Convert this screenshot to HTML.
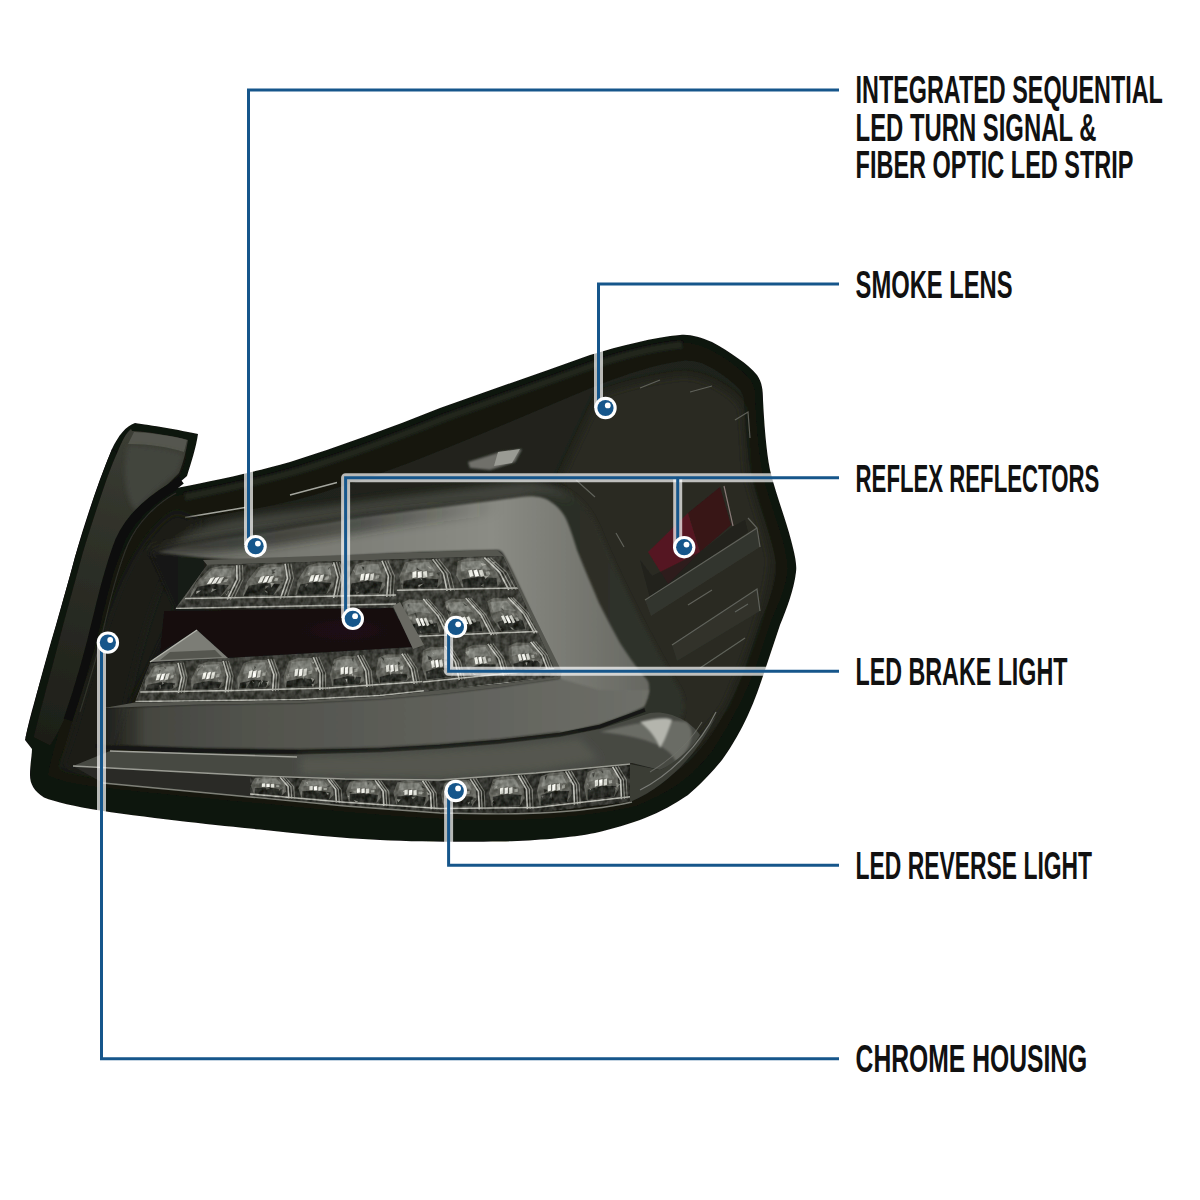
<!DOCTYPE html>
<html lang="en">
<head>
<meta charset="utf-8">
<title>Tail Light Features</title>
<style>
html,body{margin:0;padding:0;background:#fff;}
body{width:1200px;height:1200px;overflow:hidden;position:relative;font-family:"Liberation Sans",sans-serif;}
svg{position:absolute;left:0;top:0;display:block;}
.lbl{font-family:"Liberation Sans",sans-serif;font-weight:bold;font-size:39.3px;fill:#111;}
</style>
</head>
<body>
<svg width="1200" height="1200" viewBox="0 0 1200 1200">
<defs>
  <linearGradient id="gLens" x1="0" y1="0" x2="1" y2="0">
    <stop offset="0" stop-color="#1b1d17"/>
    <stop offset="0.5" stop-color="#21231c"/>
    <stop offset="1" stop-color="#1f211a"/>
  </linearGradient>
  <linearGradient id="gBar" gradientUnits="userSpaceOnUse" x1="100" y1="0" x2="660" y2="0">
    <stop offset="0" stop-color="#4a4b45"/>
    <stop offset="0.25" stop-color="#73746d"/>
    <stop offset="0.7" stop-color="#8b8c85"/>
    <stop offset="0.82" stop-color="#7b7c75"/>
    <stop offset="1" stop-color="#64655f"/>
  </linearGradient>
  <linearGradient id="gArmShade" gradientUnits="userSpaceOnUse" x1="160" y1="0" x2="500" y2="0">
    <stop offset="0" stop-color="#2a2c27" stop-opacity="0.85"/>
    <stop offset="0.6" stop-color="#2a2c27" stop-opacity="0.55"/>
    <stop offset="1" stop-color="#2a2c27" stop-opacity="0"/>
  </linearGradient>
  <linearGradient id="gHousing" gradientUnits="userSpaceOnUse" x1="110" y1="0" x2="620" y2="0">
    <stop offset="0" stop-color="#14160f"/>
    <stop offset="0.15" stop-color="#181a14"/>
    <stop offset="0.4" stop-color="#23251f"/>
    <stop offset="1" stop-color="#2e3029"/>
  </linearGradient>
  <radialGradient id="gRed"><stop offset="0" stop-color="#2a1014" stop-opacity="0.55"/><stop offset="1" stop-color="#2a1216" stop-opacity="0"/></radialGradient>
  <linearGradient id="gFin" gradientUnits="userSpaceOnUse" x1="150" y1="430" x2="60" y2="740">
    <stop offset="0" stop-color="#3c3e35"/>
    <stop offset="0.35" stop-color="#2f3129"/>
    <stop offset="1" stop-color="#1d1f18"/>
  </linearGradient>
  <linearGradient id="gBarLow" gradientUnits="userSpaceOnUse" x1="90" y1="0" x2="660" y2="0">
    <stop offset="0" stop-color="#2d2f2a" stop-opacity="0"/>
    <stop offset="0.1" stop-color="#454640"/>
    <stop offset="0.25" stop-color="#50514b"/>
    <stop offset="0.8" stop-color="#676862"/>
    <stop offset="1" stop-color="#6f7069"/>
  </linearGradient>
  <filter id="b1" x="-10%" y="-10%" width="120%" height="120%"><feGaussianBlur stdDeviation="1"/></filter>
  <filter id="b2" x="-10%" y="-10%" width="120%" height="120%"><feGaussianBlur stdDeviation="2"/></filter>
  <filter id="b4" x="-20%" y="-20%" width="140%" height="140%"><feGaussianBlur stdDeviation="4"/></filter>
  <filter id="b8" x="-20%" y="-20%" width="140%" height="140%"><feGaussianBlur stdDeviation="8"/></filter>
  <filter id="grain" x="0" y="0" width="100%" height="100%" color-interpolation-filters="sRGB">
    <feTurbulence type="fractalNoise" baseFrequency="0.22 0.18" numOctaves="2" seed="4" result="n"/>
    <feColorMatrix in="n" type="matrix" values="2 0 0 0 -0.5  2 0 0 0 -0.5  2 0 0 0 -0.5  0 0 0 0 1" result="g"/>
    <feComposite in="SourceGraphic" in2="g" operator="arithmetic" k1="0" k2="1" k3="0.16" k4="-0.08" result="m"/>
    <feGaussianBlur in="m" stdDeviation="0.45" result="mb"/>
    <feComposite in="mb" in2="SourceGraphic" operator="in"/>
  </filter>
  <filter id="soft" x="-2%" y="-2%" width="104%" height="104%"><feGaussianBlur stdDeviation="0.45"/></filter>
  <clipPath id="clipBody"><path id="bodyPath" d="M172,489 C200,483 240,476 290,462 C340,446 390,428 440,408 C490,390 540,373 590,355 C620,346 655,337 680,335 C690,334 700,337 712,342 C730,352 748,364 757,375 C762,382 763,390 763,400 C764,420 766,450 770,470 C776,495 786,520 791,540 C795,555 797,565 796,572 C794,590 786,610 780,625 C775,640 770,655 765,670 C760,685 755,700 748,715 C742,728 733,745 722,760 C712,772 700,785 688,795 C675,804 660,812 645,818 C630,824 612,829 595,833 C570,838 530,841 500,841.5 C470,842 420,842 380,840 C340,838 300,834 260,829.5 C220,825.5 160,819.5 100,810.5 C75,806.5 55,802 44,797.5 C34,791 30,784 30,775 C30,765 32,755 32,749 L25,740 C28,725 33,710 37,693 C43,670 50,645 56,625 C62,604 69,580 75,557 C81,537 88,516 94,497 C100,480 106,463 112,449 Z"/></clipPath>
  <clipPath id="clipLed"><path d="M207,565 L503,556 L558,676.5 L500,684 L440,690 L380,696.5 L300,700.5 L135,702.5 L150,663 L226,658 L413,647 L393,608 L175,609 Z"/></clipPath>
</defs>

<g id="lamp" filter="url(#soft)">
  <path d="M135,423 C150,425 180,430 198,434 C196,448 191,463 187,476 L172,489 L120,520 L60,640 L25,740 C30,715 38,690 44,668 C55,630 66,590 75,557 C85,522 98,482 112,449 C118,436 126,426 135,423 Z" fill="#11120d"/>
  <use href="#bodyPath" fill="#11120d"/>
  <g clip-path="url(#clipBody)">
    <path d="M172,497 C215,489 255,481 294,470 C345,455 395,436 445,416 C495,398 545,380 594,363 C625,353 655,345 682,343 C692,343 702,346 710,350 C724,357 742,370 750,380 C755,387 755,394 755,402 C756,425 758,450 762,472 C767,495 777,520 783,543 C786,555 788,565 787,572 C785,590 777,606 771,620 C766,635 761,650 756,665 C751,680 744,695 737,708 C730,722 721,737 711,752 C702,763 691,775 678,784 C666,792 650,800 635,806 C595,815 540,820 500,820 C440,820 380,815 300,807 C230,800 160,794 100,787 C75,784 58,780 48,775 C56,740 68,700 80,665 C90,635 100,605 112,575 C127,540 150,505 172,497 Z" fill="#15170f"/>
    <path d="M185,497 C215,491 255,483 294,472 C345,457 395,438 445,418 C495,400 545,382 594,365 C625,355 655,347 682,345" fill="none" stroke="#24261f" stroke-width="7" filter="url(#b1)"/>
    <path d="M185,517.5 L245,507.5 M290,495 L337,482.5" stroke="#a5a69e" stroke-width="1.3" fill="none"/>
    <path id="lens" d="M176,522 C215,516 255,510 296,500 C345,487 395,469 447,448 C497,428 547,406 596,386 C627,374 657,364 682,361 C692,360 700,362 706,365 C720,372 733,382 740,390 C744,396 744,400 744,406 C745,428 747,452 751,474 C756,497 766,522 772,545 C775,557 777,566 776,572 C774,590 767,606 761,620 C756,635 751,650 746,665 C741,680 734,695 727,708 C720,722 711,737 701,748 C692,759 681,769 668,777 C656,785 642,792 628,797 C590,806 540,810 500,810 C440,810 380,806 300,798 C230,791 160,785 100,778 C82,775 68,771 60,766 C66,740 77,700 90,670 C100,640 110,610 122,582 C137,552 156,530 176,522 Z" fill="url(#gLens)"/>
    <path d="M600,395 C630,385 660,378 685,376 C710,378 735,395 742,408 L746,470 C752,500 765,530 770,560 C768,600 745,660 725,705 C700,740 690,750 675,760 L640,690 L585,560 L560,480 Z" fill="#292b24" filter="url(#b4)"/>
    <path d="M176,512 C152,525 132,560 120,588 C107,622 94,662 82,702 C74,732 66,757 60,768 L112,778 C122,722 137,642 162,582 C172,562 187,542 202,522 Z" fill="#1a1c17" filter="url(#b4)"/>
    <path d="M150,552 C200,535 300,522 380,510 C440,500 500,490 540,486 C565,482 585,500 597,525 C615,570 650,640 680,690 C690,710 680,735 650,745 C600,760 500,772 400,775 C300,776 200,772 110,762 C120,740 125,720 130,702 L150,662 L175,608 Z" fill="url(#gHousing)" filter="url(#b2)"/>
    <path d="M178,540 C200,524 240,517 300,510 C360,502 440,492 520,482 C545,482 562,490 572,502 L560,497 C545,492 530,493 521,497 C470,505 420,510 380,515 C330,522 280,530 250,535 C215,540 185,545 160,551 Z" fill="#42443e" filter="url(#b4)"/>
    <path d="M468,462 L500,452 L522,449 L515,462 L490,470 L470,468 Z" fill="#6f706a" filter="url(#b1)"/>
    <path d="M498,452 L520,449 L512,463 L494,466 Z" fill="#9a9b94"/>
    <path id="cbar" d="M158,552 C185,545 215,540 250,535 C290,529 335,521 380,515 C420,510 470,504 521,497 C533,495 545,497 551,502 C559,507 564,514 567,521 C571,531 574,540 577,550 C584,568 592,586 599,603 C606,617 613,630 620,643 C627,654 634,664 641,673 C646,678 649,681 649,685 C650,692 648,700 644,706 C630,715 600,724 560,732 L560,678.5 C556,670 553,663 551,657 C543,640 535,622 527,603 C520,588 512,570 505,557 C503,553 501,550 497,550 C455,551 420,552 380,554 C335,557 290,559 250,560 C215,560 185,556 158,552 Z" fill="url(#gBar)" filter="url(#b1)"/>
    <path d="M150,548 C185,541 215,536 250,531 C290,525 335,517 380,511 C420,506 470,500 521,493 L521,512 C470,518 420,524 380,530 C335,537 290,544 250,549 C215,552 185,553 150,553 Z" fill="url(#gArmShade)" filter="url(#b4)"/>
    <path d="M104,708 L200,704.5 L300,703 L380,699 L440,694 L500,687 L560,678.5 L600,690 L649,690 L644,706 L600,724 L560,732 L500,739 L440,744 L380,747.5 L300,749.3 L200,748 L110,745 L90,744 Z" fill="url(#gBarLow)" filter="url(#b1)"/>
    <path d="M203,560 L497,550 L505,557 L562,672 L560,678.5 L500,687 L440,694 L380,699 L300,703 L200,704.5 L104,708 L135,702.5 L300,700.5 L380,696.5 L440,690 L500,684 L558,676.5 L503,556 L207,565 Z" fill="#555650"/>
    <g clip-path="url(#clipLed)"><g filter="url(#grain)">
      <path d="M130,540 H580 V720 H130 Z" fill="#3b3c37"/>
<path d="M207,565 L400,559 L396,601 L181,604 Z" fill="#3c3d37"/>
<path d="M209.3,568.8 L220.7,565.7 L234.8,566.1 L236.1,575.8 L230.1,588.4 L220.5,596.4 L189.6,597.3 L196.3,582.5 Z" fill="#62635c"/>
<path d="M211.7,569.5 L231.7,568.1 L231.2,577.4 L219.2,576.2 L203.7,578.9 Z" fill="#80817a" opacity="0.9"/>
<path d="M197.6,586.7 L214.4,584 L228.8,585.3 L220.7,596 L191,596.9 Z" fill="#22231f" opacity="0.9"/>
<path d="M196.5,591.1 L201.2,590.4 L196.1,594.1 Z" fill="#b5b6ae" opacity="0.75"/>
<path d="M216.2,573.4 L217.8,576 L215.2,576.9 Z" fill="#6d6e67" opacity="0.75"/>
<path d="M226.3,574.7 L230,575.7 L225.1,577.3 Z" fill="#6d6e67" opacity="0.75"/>
<path d="M198,582.8 L202.9,582.7 L196.8,585.7 Z" fill="#6d6e67" opacity="0.75"/>
<path d="M212.2,588.5 L216.6,589.3 L211,592.2 Z" fill="#9c9d95" opacity="0.75"/>
<path d="M225,592.7 L226.6,595.4 L226.8,594.6 Z" fill="#b5b6ae" opacity="0.75"/>
<path d="M227.5,590.9 L229.6,590.6 L227.6,594.7 Z" fill="#9c9d95" opacity="0.75"/>
<path d="M209,592.6 L211.6,592 L210.2,595.7 Z" fill="#2c2d28" opacity="0.75"/>
<path d="M205.8,591.1 L208,592.9 L204.8,594.7 Z" fill="#3a3b35" opacity="0.75"/>
<path d="M210.7,577.9 L214.7,577.1 L210.8,583.4 L206.8,584.2 Z" fill="#e4e5dd"/>
<path d="M215.5,577.8 L219.4,577 L215.6,583.2 L211.6,584.1 Z" fill="#f6f6f0"/>
<path d="M220.2,577.7 L224.2,576.8 L220.5,583.1 L216.4,584 Z" fill="#cfd0c8"/>
<path d="M224.8,579.2 L228.6,578.7 L226.7,581.8 L223,582.3 Z" fill="#a9aaa2" opacity="0.8"/>
<path d="M236.7,565.2 L237,579.6 L227.2,599.4" fill="none" stroke="#c9cac2" stroke-width="1.6" opacity="0.9"/>
<path d="M239.6,565.2 L240,579.6 L230.4,599.4" fill="none" stroke="#9a9b93" stroke-width="1.2" opacity="0.9"/>
<path d="M242.5,565.1 L243,579.5 L233.6,599.3" fill="none" stroke="#7d7e77" stroke-width="1.1" opacity="0.9"/>
<path d="M258.1,567.3 L269.2,564.2 L283.3,564.6 L286,574.5 L281.8,587.4 L273.3,595.5 L242.5,596.4 L247,581.4 Z" fill="#62635c"/>
<path d="M260.6,568 L280.5,566.7 L281.4,576.2 L269.1,574.9 L253.9,577.7 Z" fill="#80817a" opacity="0.9"/>
<path d="M248.9,585.7 L265.4,582.9 L280,584.2 L273.4,595.1 L243.7,596 Z" fill="#22231f" opacity="0.9"/>
<path d="M265.3,585.8 L269.3,585.7 L265.2,589 Z" fill="#85867e" opacity="0.75"/>
<path d="M268.3,577.1 L272.3,575.2 L266.7,581 Z" fill="#2c2d28" opacity="0.75"/>
<path d="M270.8,577.1 L272.6,577.6 L272,581.1 Z" fill="#2c2d28" opacity="0.75"/>
<path d="M280.5,581.1 L283.5,580.9 L282,583.8 Z" fill="#3a3b35" opacity="0.75"/>
<path d="M270.5,583.1 L274.6,583 L271.1,587.7 Z" fill="#b5b6ae" opacity="0.75"/>
<path d="M271.4,569.7 L275.9,568.7 L272.8,572.8 Z" fill="#3a3b35" opacity="0.75"/>
<path d="M272.5,571.7 L275.5,572.1 L272.3,574.3 Z" fill="#2c2d28" opacity="0.75"/>
<path d="M263.9,588.1 L266.2,589.2 L264.8,591.7 Z" fill="#2c2d28" opacity="0.75"/>
<path d="M264.6,590.2 L268.1,592.3 L266.1,592.6 Z" fill="#b5b6ae" opacity="0.75"/>
<path d="M260.8,576.7 L264.7,575.8 L261.7,582.2 L257.8,583.1 Z" fill="#e4e5dd"/>
<path d="M265.6,576.6 L269.4,575.7 L266.5,582.1 L262.6,583 Z" fill="#f6f6f0"/>
<path d="M270.3,576.5 L274.2,575.6 L271.4,582 L267.4,582.9 Z" fill="#cfd0c8"/>
<path d="M275.1,577.9 L278.8,577.4 L277.5,580.7 L273.7,581.1 Z" fill="#a9aaa2" opacity="0.8"/>
<path d="M285.1,563.8 L287.4,578.4 L280.4,598.6" fill="none" stroke="#c9cac2" stroke-width="1.6" opacity="0.9"/>
<path d="M288,563.7 L290.4,578.4 L283.6,598.5" fill="none" stroke="#9a9b93" stroke-width="1.2" opacity="0.9"/>
<path d="M290.9,563.6 L293.5,578.3 L286.8,598.5" fill="none" stroke="#7d7e77" stroke-width="1.1" opacity="0.9"/>
<path d="M306.9,565.9 L317.6,562.8 L331.9,563.1 L335.9,573.2 L333.5,586.3 L326,594.6 L295.3,595.5 L297.8,580.2 Z" fill="#62635c"/>
<path d="M309.5,566.6 L329.3,565.3 L331.5,574.9 L319,573.6 L304.1,576.4 Z" fill="#80817a" opacity="0.9"/>
<path d="M300.2,584.6 L316.4,581.8 L331.3,583.1 L326.1,594.2 L296.5,595.1 Z" fill="#22231f" opacity="0.9"/>
<path d="M297.8,589.8 L300.4,591.7 L297.8,592.2 Z" fill="#2c2d28" opacity="0.75"/>
<path d="M307.7,573.3 L310,572.5 L309.3,576.9 Z" fill="#b5b6ae" opacity="0.75"/>
<path d="M324.7,577.5 L327.2,577.9 L323.9,580.4 Z" fill="#9c9d95" opacity="0.75"/>
<path d="M329.3,571.8 L331.1,573.6 L330.8,576.5 Z" fill="#9c9d95" opacity="0.75"/>
<path d="M331.9,565 L333.8,563.6 L333.4,567.1 Z" fill="#b5b6ae" opacity="0.75"/>
<path d="M317.7,576.9 L321.2,579.9 L318.4,580.7 Z" fill="#9c9d95" opacity="0.75"/>
<path d="M305.5,583.4 L308.1,584.4 L305.3,587.1 Z" fill="#6d6e67" opacity="0.75"/>
<path d="M328.3,568 L331,566.2 L328,569.9 Z" fill="#3a3b35" opacity="0.75"/>
<path d="M326.1,576.4 L329.1,574.3 L328.3,578.1 Z" fill="#85867e" opacity="0.75"/>
<path d="M310.9,575.5 L314.7,574.6 L312.6,581.1 L308.8,582 Z" fill="#e4e5dd"/>
<path d="M315.7,575.3 L319.5,574.4 L317.4,581 L313.6,581.9 Z" fill="#f6f6f0"/>
<path d="M320.5,575.2 L324.2,574.3 L322.3,580.9 L318.4,581.8 Z" fill="#cfd0c8"/>
<path d="M325.5,576.7 L329.1,576.2 L328.2,579.5 L324.5,580 Z" fill="#a9aaa2" opacity="0.8"/>
<path d="M333.6,562.3 L337.9,577.2 L333.6,597.8" fill="none" stroke="#c9cac2" stroke-width="1.6" opacity="0.9"/>
<path d="M336.5,562.2 L340.9,577.2 L336.8,597.7" fill="none" stroke="#9a9b93" stroke-width="1.2" opacity="0.9"/>
<path d="M339.4,562.1 L343.9,577.1 L340,597.7" fill="none" stroke="#7d7e77" stroke-width="1.1" opacity="0.9"/>
<path d="M355.7,564.5 L366,561.3 L380.4,561.7 L385.8,571.9 L385.1,585.3 L378.8,593.7 L348.1,594.7 L348.5,579 Z" fill="#62635c"/>
<path d="M358.4,565.2 L378.1,563.8 L381.6,573.7 L368.9,572.4 L354.4,575.2 Z" fill="#80817a" opacity="0.9"/>
<path d="M351.6,583.5 L367.4,580.7 L382.5,582 L378.8,593.3 L349.2,594.2 Z" fill="#22231f" opacity="0.9"/>
<path d="M383.5,579.5 L385.3,582 L386,583.4 Z" fill="#2c2d28" opacity="0.75"/>
<path d="M352.9,569.5 L354.5,570.5 L354.8,573 Z" fill="#9c9d95" opacity="0.75"/>
<path d="M352.4,582.9 L354.8,583.5 L352.4,587.4 Z" fill="#3a3b35" opacity="0.75"/>
<path d="M352.3,569.5 L354.2,572.7 L354,572.2 Z" fill="#85867e" opacity="0.75"/>
<path d="M361.5,566.3 L364.1,567.1 L363.3,570.6 Z" fill="#2c2d28" opacity="0.75"/>
<path d="M364.3,591.9 L366.5,593.7 L364.2,594.1 Z" fill="#2c2d28" opacity="0.75"/>
<path d="M355.7,585.5 L358.9,587.9 L356.3,588.3 Z" fill="#3a3b35" opacity="0.75"/>
<path d="M355.4,590.9 L359.5,592.6 L356.2,594.4 Z" fill="#6d6e67" opacity="0.75"/>
<path d="M361.6,575.2 L363.8,578.4 L361.6,577.3 Z" fill="#6d6e67" opacity="0.75"/>
<path d="M361.1,574.2 L364.7,573.3 L363.5,579.9 L359.8,580.8 Z" fill="#e4e5dd"/>
<path d="M365.8,574.1 L369.5,573.2 L368.3,579.8 L364.6,580.7 Z" fill="#f6f6f0"/>
<path d="M370.6,574 L374.2,573.1 L373.1,579.7 L369.4,580.6 Z" fill="#cfd0c8"/>
<path d="M375.8,575.5 L379.4,575 L378.9,578.3 L375.3,578.8 Z" fill="#a9aaa2" opacity="0.8"/>
<path d="M382,560.8 L388.3,576 L386.8,596.9" fill="none" stroke="#c9cac2" stroke-width="1.6" opacity="0.9"/>
<path d="M384.9,560.7 L391.3,576 L390,596.9" fill="none" stroke="#9a9b93" stroke-width="1.2" opacity="0.9"/>
<path d="M387.8,560.6 L394.4,575.9 L393.2,596.8" fill="none" stroke="#7d7e77" stroke-width="1.1" opacity="0.9"/>
<path d="M184.6,598.5 L396.6,595.1" stroke="#b3b4ac" stroke-width="1.5" fill="none"/>
<path d="M176,608.5 L396,604" stroke="#a9aaa2" stroke-width="1.4"/>
<path d="M150,663 L240,659 L232,701.5 L137,702 Z" fill="#3c3d37"/>
<path d="M153.2,666.7 L163.1,663.6 L176.4,663.8 L180,673.6 L177.3,686.5 L171.8,689.8 L144.5,690.6 L145.1,680.5 Z" fill="#62635c"/>
<path d="M155.7,667.4 L174,665.9 L175.8,675.3 L164.4,674.1 L150.8,676.9 Z" fill="#80817a" opacity="0.9"/>
<path d="M147.4,684.7 L162,682 L175.4,683.3 L171.9,689.4 L145.6,690.2 Z" fill="#22231f" opacity="0.9"/>
<path d="M159.1,685.6 L160.8,685.1 L160.7,689.3 Z" fill="#85867e" opacity="0.75"/>
<path d="M173,671.5 L176.1,673.6 L173.3,675.4 Z" fill="#6d6e67" opacity="0.75"/>
<path d="M166.8,679.5 L168.8,682.5 L166.3,683 Z" fill="#6d6e67" opacity="0.75"/>
<path d="M156.3,673.1 L159.7,674.5 L156.3,677.8 Z" fill="#9c9d95" opacity="0.75"/>
<path d="M173,684.5 L174.8,686.4 L173,686.6 Z" fill="#85867e" opacity="0.75"/>
<path d="M162.4,681.4 L164.1,683.4 L161.8,684.8 Z" fill="#9c9d95" opacity="0.75"/>
<path d="M164,667 L166.9,668 L165.1,668.8 Z" fill="#2c2d28" opacity="0.75"/>
<path d="M159,670 L161,670.3 L159.2,673.6 Z" fill="#3a3b35" opacity="0.75"/>
<path d="M167.3,675.7 L170.6,678.3 L169.4,678 Z" fill="#6d6e67" opacity="0.75"/>
<path d="M157.5,674.3 L161,673.4 L159,679.8 L155.6,680.6 Z" fill="#e4e5dd"/>
<path d="M161.9,674.2 L165.3,673.3 L163.4,679.6 L159.9,680.5 Z" fill="#f6f6f0"/>
<path d="M166.2,674.1 L169.7,673.1 L167.8,679.5 L164.3,680.4 Z" fill="#cfd0c8"/>
<path d="M170.8,675.5 L174.1,675 L173.2,678.2 L169.9,678.7 Z" fill="#a9aaa2" opacity="0.8"/>
<path d="M178,662.9 L181.6,677.6 L178.4,692.9" fill="none" stroke="#c9cac2" stroke-width="1.6" opacity="0.9"/>
<path d="M180.7,662.8 L184.4,677.5 L181.2,692.9" fill="none" stroke="#9a9b93" stroke-width="1.2" opacity="0.9"/>
<path d="M183.4,662.7 L187.1,677.4 L184,692.8" fill="none" stroke="#7d7e77" stroke-width="1.1" opacity="0.9"/>
<path d="M198.5,664.9 L208.2,661.6 L221.6,661.9 L225.7,672.1 L223.9,685.6 L218.5,689 L191.3,689.9 L191.2,679.3 Z" fill="#62635c"/>
<path d="M201,665.6 L219.3,664.1 L221.7,673.9 L210.2,672.6 L196.7,675.5 Z" fill="#80817a" opacity="0.9"/>
<path d="M193.8,683.7 L208.2,680.9 L221.8,682.3 L218.6,688.6 L192.3,689.4 Z" fill="#22231f" opacity="0.9"/>
<path d="M218.3,677.9 L219.6,680.8 L218.6,682.3 Z" fill="#9c9d95" opacity="0.75"/>
<path d="M201.9,664.4 L204.1,667.1 L203.6,667.4 Z" fill="#b5b6ae" opacity="0.75"/>
<path d="M201.2,667.7 L205.2,669.1 L201,670.5 Z" fill="#85867e" opacity="0.75"/>
<path d="M196.7,668.5 L200.8,667.6 L197.1,671.5 Z" fill="#9c9d95" opacity="0.75"/>
<path d="M202.9,676 L204,677.3 L203,680.1 Z" fill="#85867e" opacity="0.75"/>
<path d="M215.5,667.3 L219.7,665.2 L215.6,671.1 Z" fill="#9c9d95" opacity="0.75"/>
<path d="M202,681 L204.4,683.8 L202.6,684.6 Z" fill="#3a3b35" opacity="0.75"/>
<path d="M211.2,685.9 L212,688.8 L212.4,687.6 Z" fill="#3a3b35" opacity="0.75"/>
<path d="M200.6,681.8 L201.9,682.5 L202,686.7 Z" fill="#3a3b35" opacity="0.75"/>
<path d="M203.3,672.9 L206.7,671.9 L205.1,678.5 L201.7,679.4 Z" fill="#e4e5dd"/>
<path d="M207.6,672.7 L211,671.8 L209.5,678.4 L206.1,679.3 Z" fill="#f6f6f0"/>
<path d="M212,672.6 L215.4,671.6 L213.9,678.3 L210.5,679.2 Z" fill="#cfd0c8"/>
<path d="M216.6,674.1 L219.9,673.6 L219.2,676.9 L215.9,677.4 Z" fill="#a9aaa2" opacity="0.8"/>
<path d="M223.1,661 L227.6,676.3 L225.3,692.3" fill="none" stroke="#c9cac2" stroke-width="1.6" opacity="0.9"/>
<path d="M225.8,660.9 L230.4,676.2 L228.1,692.2" fill="none" stroke="#9a9b93" stroke-width="1.2" opacity="0.9"/>
<path d="M228.5,660.8 L233.1,676.1 L230.9,692.2" fill="none" stroke="#7d7e77" stroke-width="1.1" opacity="0.9"/>
<path d="M140.4,691.9 L234.1,690.5" stroke="#b3b4ac" stroke-width="1.5" fill="none"/>
<path d="M240,659 L330,655 L328,699.5 L232,701.5 Z" fill="#3c3d37"/>
<path d="M243.7,663.1 L253.3,659.7 L266.7,660 L271.6,670.5 L270.7,684.3 L265.5,687.9 L238.1,689.1 L237.3,678.1 Z" fill="#62635c"/>
<path d="M246.3,663.8 L264.6,662.2 L267.7,672.4 L256,671.1 L242.6,674.1 Z" fill="#80817a" opacity="0.9"/>
<path d="M240.2,682.7 L254.6,679.7 L268.3,680.9 L265.5,687.5 L239.1,688.6 Z" fill="#22231f" opacity="0.9"/>
<path d="M252.3,667.5 L253.7,670.4 L253.2,671.6 Z" fill="#2c2d28" opacity="0.75"/>
<path d="M246.3,683.1 L250.6,680.9 L246.2,688.2 Z" fill="#6d6e67" opacity="0.75"/>
<path d="M254.5,665.6 L256,667.4 L254.3,669.5 Z" fill="#2c2d28" opacity="0.75"/>
<path d="M259.2,664.5 L262.4,664.7 L259.3,668.7 Z" fill="#6d6e67" opacity="0.75"/>
<path d="M261.5,679.6 L263,681.2 L261.1,684.5 Z" fill="#b5b6ae" opacity="0.75"/>
<path d="M269.1,665.6 L271.4,664.6 L268.6,669.3 Z" fill="#9c9d95" opacity="0.75"/>
<path d="M266.3,682.3 L268.9,680.9 L267.8,685.4 Z" fill="#b5b6ae" opacity="0.75"/>
<path d="M258.7,682.9 L261.1,681.1 L258.2,687.8 Z" fill="#9c9d95" opacity="0.75"/>
<path d="M251.6,680.2 L254.4,682.9 L253,683 Z" fill="#85867e" opacity="0.75"/>
<path d="M249.1,671.3 L252.4,670.3 L251.3,677.2 L247.9,678.2 Z" fill="#e4e5dd"/>
<path d="M253.4,671.2 L256.8,670.2 L255.7,677.1 L252.3,678 Z" fill="#f6f6f0"/>
<path d="M257.8,671 L261.1,670 L260.1,676.9 L256.7,677.9 Z" fill="#cfd0c8"/>
<path d="M262.6,672.5 L265.9,672 L265.4,675.4 L262.1,676 Z" fill="#a9aaa2" opacity="0.8"/>
<path d="M268.2,659 L273.8,674.7 L272.6,691.1" fill="none" stroke="#c9cac2" stroke-width="1.6" opacity="0.9"/>
<path d="M270.9,658.9 L276.5,674.6 L275.4,691.1" fill="none" stroke="#9a9b93" stroke-width="1.2" opacity="0.9"/>
<path d="M273.6,658.8 L279.3,674.5 L278.3,691" fill="none" stroke="#7d7e77" stroke-width="1.1" opacity="0.9"/>
<path d="M289,661.2 L298.4,657.7 L311.8,658 L317.5,668.8 L317.5,682.9 L312.6,686.6 L285.2,687.8 L283.7,676.5 Z" fill="#62635c"/>
<path d="M291.7,661.9 L309.9,660.3 L313.7,670.7 L301.9,669.4 L288.7,672.5 Z" fill="#80817a" opacity="0.9"/>
<path d="M286.9,681.2 L301.1,678.2 L314.9,679.5 L312.6,686.2 L286.2,687.3 Z" fill="#22231f" opacity="0.9"/>
<path d="M310.6,677.6 L314.3,679.2 L312.7,682.3 Z" fill="#b5b6ae" opacity="0.75"/>
<path d="M307,682.3 L309.6,684.1 L306.9,685.9 Z" fill="#2c2d28" opacity="0.75"/>
<path d="M311.5,683.9 L313.7,684.1 L313.3,688 Z" fill="#9c9d95" opacity="0.75"/>
<path d="M311.2,661.5 L314.7,662.2 L313.6,664 Z" fill="#9c9d95" opacity="0.75"/>
<path d="M314.3,667.5 L318.6,667.4 L316.4,671.9 Z" fill="#b5b6ae" opacity="0.75"/>
<path d="M287.5,674.3 L289.6,673.3 L288.5,676.8 Z" fill="#85867e" opacity="0.75"/>
<path d="M302.4,675.5 L305.5,673.9 L303.1,679.8 Z" fill="#9c9d95" opacity="0.75"/>
<path d="M303.9,677.8 L307,678.3 L306.2,682.6 Z" fill="#3a3b35" opacity="0.75"/>
<path d="M285.7,675.3 L290,676.5 L286.7,679.2 Z" fill="#85867e" opacity="0.75"/>
<path d="M295,669.6 L298.3,668.6 L297.6,675.6 L294.3,676.6 Z" fill="#e4e5dd"/>
<path d="M299.3,669.5 L302.6,668.5 L302,675.5 L298.7,676.5 Z" fill="#f6f6f0"/>
<path d="M303.7,669.3 L307,668.3 L306.4,675.3 L303.1,676.3 Z" fill="#cfd0c8"/>
<path d="M308.6,670.9 L311.9,670.3 L311.6,673.8 L308.3,674.4 Z" fill="#a9aaa2" opacity="0.8"/>
<path d="M313.3,657.1 L320,673.1 L319.9,689.9" fill="none" stroke="#c9cac2" stroke-width="1.6" opacity="0.9"/>
<path d="M316,656.9 L322.7,673 L322.8,689.9" fill="none" stroke="#9a9b93" stroke-width="1.2" opacity="0.9"/>
<path d="M318.7,656.8 L325.5,672.9 L325.6,689.8" fill="none" stroke="#7d7e77" stroke-width="1.1" opacity="0.9"/>
<path d="M234.1,690.5 L328.5,687.9" stroke="#b3b4ac" stroke-width="1.5" fill="none"/>
<path d="M330,655 L418,652 L424,692 L328,699.5 Z" fill="#3c3d37"/>
<path d="M334.2,659.3 L343.2,655.9 L356.4,656.3 L362.8,666.7 L364.1,680.4 L359.5,684.1 L332.3,686.3 L330,675 Z" fill="#62635c"/>
<path d="M336.9,660.1 L354.7,658.5 L359.3,668.6 L347.5,667.5 L334.7,670.7 Z" fill="#80817a" opacity="0.9"/>
<path d="M333.5,679.6 L347.4,676.2 L361.2,677.1 L359.5,683.7 L333.3,685.8 Z" fill="#22231f" opacity="0.9"/>
<path d="M351.4,658.4 L353.6,657.4 L353.4,662.4 Z" fill="#2c2d28" opacity="0.75"/>
<path d="M333.9,669.2 L335.4,668.2 L335.2,671 Z" fill="#85867e" opacity="0.75"/>
<path d="M353.9,675.3 L356.6,675.5 L354.7,680 Z" fill="#85867e" opacity="0.75"/>
<path d="M353.3,666.2 L355.2,669.3 L354.2,668.2 Z" fill="#6d6e67" opacity="0.75"/>
<path d="M342.6,666.8 L344.8,664.8 L343.8,668.9 Z" fill="#9c9d95" opacity="0.75"/>
<path d="M333.8,665.9 L337,668.7 L334.7,668.3 Z" fill="#6d6e67" opacity="0.75"/>
<path d="M332.8,664.3 L335.1,662.4 L333.4,666.4 Z" fill="#3a3b35" opacity="0.75"/>
<path d="M345.4,679.1 L347.3,678.8 L347.2,683.2 Z" fill="#b5b6ae" opacity="0.75"/>
<path d="M351.7,673.1 L353.6,674.9 L352.2,676.1 Z" fill="#b5b6ae" opacity="0.75"/>
<path d="M340.7,667.8 L343.9,666.8 L343.8,673.8 L340.5,674.8 Z" fill="#e4e5dd"/>
<path d="M345,667.6 L348.2,666.6 L348.1,673.5 L344.9,674.6 Z" fill="#f6f6f0"/>
<path d="M349.3,667.4 L352.5,666.4 L352.5,673.3 L349.2,674.4 Z" fill="#cfd0c8"/>
<path d="M354.3,668.9 L357.4,668.3 L357.5,671.7 L354.3,672.3 Z" fill="#a9aaa2" opacity="0.8"/>
<path d="M357.7,655.3 L365.7,670.9 L367.1,687" fill="none" stroke="#c9cac2" stroke-width="1.6" opacity="0.9"/>
<path d="M360.4,655.3 L368.4,670.7 L369.9,686.8" fill="none" stroke="#9a9b93" stroke-width="1.2" opacity="0.9"/>
<path d="M363,655.2 L371.2,670.6 L372.7,686.7" fill="none" stroke="#7d7e77" stroke-width="1.1" opacity="0.9"/>
<path d="M378.6,657.6 L387.3,654.3 L400.6,654.6 L408,664.6 L410.6,677.5 L406.3,681 L379.2,683.2 L375.8,672.5 Z" fill="#62635c"/>
<path d="M381.4,658.3 L399.1,656.8 L404.6,666.4 L392.7,665.3 L380.2,668.4 Z" fill="#80817a" opacity="0.9"/>
<path d="M379.7,676.9 L393.4,673.6 L407.4,674.4 L406.2,680.6 L380.1,682.8 Z" fill="#22231f" opacity="0.9"/>
<path d="M397.8,661.2 L400.4,663.2 L398.4,665.6 Z" fill="#3a3b35" opacity="0.75"/>
<path d="M388.5,657.9 L392.8,658.7 L390.6,660.2 Z" fill="#9c9d95" opacity="0.75"/>
<path d="M389.9,678.4 L392.8,677.6 L390.9,681.9 Z" fill="#3a3b35" opacity="0.75"/>
<path d="M400.2,666.1 L403.4,665.8 L403.1,668.1 Z" fill="#9c9d95" opacity="0.75"/>
<path d="M378.8,657.9 L380.6,659.1 L381.1,660.9 Z" fill="#6d6e67" opacity="0.75"/>
<path d="M389,670.7 L391.8,669.9 L390.9,675.4 Z" fill="#b5b6ae" opacity="0.75"/>
<path d="M399.9,672.2 L403,671.4 L401.9,674.1 Z" fill="#9c9d95" opacity="0.75"/>
<path d="M380.8,656.7 L384.5,658.4 L383.7,660.8 Z" fill="#2c2d28" opacity="0.75"/>
<path d="M406.6,676.3 L409.1,677.5 L408.6,678.3 Z" fill="#85867e" opacity="0.75"/>
<path d="M385.9,665.6 L389,664.6 L389.5,671.3 L386.4,672.3 Z" fill="#e4e5dd"/>
<path d="M390.2,665.4 L393.3,664.4 L393.9,671.1 L390.7,672.1 Z" fill="#f6f6f0"/>
<path d="M394.5,665.2 L397.6,664.2 L398.2,670.8 L395.1,671.8 Z" fill="#cfd0c8"/>
<path d="M399.6,666.6 L402.8,666.1 L403.1,669.3 L400,669.9 Z" fill="#a9aaa2" opacity="0.8"/>
<path d="M401.9,653.8 L411.3,668.5 L414.2,683.8" fill="none" stroke="#c9cac2" stroke-width="1.6" opacity="0.9"/>
<path d="M404.5,653.7 L414,668.3 L417,683.6" fill="none" stroke="#9a9b93" stroke-width="1.2" opacity="0.9"/>
<path d="M407.1,653.6 L416.8,668.2 L419.9,683.4" fill="none" stroke="#7d7e77" stroke-width="1.1" opacity="0.9"/>
<path d="M328.5,687.9 L422.4,681.6" stroke="#b3b4ac" stroke-width="1.5" fill="none"/>
<path d="M135,701.5 L300,699.5 L380,695.5 L440,689 L500,683 L558,675.5" stroke="#a9aaa2" stroke-width="1.4" fill="none"/>
<path d="M400,559 L503,556 L523,596 L396,598 Z" fill="#3c3d37"/>
<path d="M404.9,562.8 L415.4,559.7 L431.1,560.1 L439.6,569.7 L442.3,582.3 L437,587.9 L401.8,588.9 L399.3,576.5 Z" fill="#62635c"/>
<path d="M408,563.4 L429.1,562.1 L435.3,571.4 L420.8,570.2 L405.3,572.9 Z" fill="#80817a" opacity="0.9"/>
<path d="M403.6,580.7 L421,578 L438.4,579.2 L436.9,587.5 L403,588.5 Z" fill="#22231f" opacity="0.9"/>
<path d="M410,575.4 L413.1,576.5 L412.1,577.2 Z" fill="#6d6e67" opacity="0.75"/>
<path d="M436.4,572.9 L440.1,571.9 L439.2,576.2 Z" fill="#2c2d28" opacity="0.75"/>
<path d="M419.5,577.6 L421.8,578.8 L422.5,580.7 Z" fill="#b5b6ae" opacity="0.75"/>
<path d="M400.6,581.5 L402.8,584.3 L400.5,585.5 Z" fill="#3a3b35" opacity="0.75"/>
<path d="M419.3,579.6 L424.7,581.2 L422.6,582.3 Z" fill="#2c2d28" opacity="0.75"/>
<path d="M418.2,585.1 L423.6,583.5 L418.7,587.3 Z" fill="#b5b6ae" opacity="0.75"/>
<path d="M417.9,577.3 L420.8,577.9 L419.2,580 Z" fill="#2c2d28" opacity="0.75"/>
<path d="M416.7,567.5 L419.7,570.1 L416.8,569.9 Z" fill="#2c2d28" opacity="0.75"/>
<path d="M426.7,565.5 L431.7,568.3 L429.8,568.8 Z" fill="#b5b6ae" opacity="0.75"/>
<path d="M412.5,571.9 L416.4,571.1 L416.4,577.3 L412.4,578.2 Z" fill="#e4e5dd"/>
<path d="M417.8,571.8 L421.7,570.9 L421.8,577.2 L417.8,578.1 Z" fill="#f6f6f0"/>
<path d="M423.1,571.7 L426.9,570.8 L427.3,577.1 L423.3,578 Z" fill="#cfd0c8"/>
<path d="M429.3,573.1 L433.2,572.6 L433.5,575.8 L429.5,576.2 Z" fill="#a9aaa2" opacity="0.8"/>
<path d="M432.6,559.2 L443.4,573.6 L447.1,590.9" fill="none" stroke="#c9cac2" stroke-width="1.6" opacity="0.9"/>
<path d="M435.7,559.1 L446.8,573.5 L450.8,590.8" fill="none" stroke="#9a9b93" stroke-width="1.2" opacity="0.9"/>
<path d="M438.8,559.1 L450.2,573.4 L454.5,590.7" fill="none" stroke="#7d7e77" stroke-width="1.1" opacity="0.9"/>
<path d="M457.6,561.3 L467.3,558.2 L483.2,558.6 L494.7,568.4 L501.3,581.1 L497.6,586.8 L462.5,587.8 L456.2,575.2 Z" fill="#62635c"/>
<path d="M460.9,562 L481.8,560.6 L490.9,570.1 L475.9,568.8 L461.1,571.6 Z" fill="#80817a" opacity="0.9"/>
<path d="M461.8,579.5 L478.5,576.8 L496.4,578 L497.4,586.4 L463.6,587.4 Z" fill="#22231f" opacity="0.9"/>
<path d="M484,576 L489.4,575.3 L485.5,579.1 Z" fill="#b5b6ae" opacity="0.75"/>
<path d="M491.5,561.8 L496.2,561.9 L493.1,564.4 Z" fill="#9c9d95" opacity="0.75"/>
<path d="M486.7,560.8 L489.9,559 L490.1,563.4 Z" fill="#3a3b35" opacity="0.75"/>
<path d="M480.9,585.5 L483.5,583.8 L483.7,587.1 Z" fill="#85867e" opacity="0.75"/>
<path d="M493,567 L496.3,568.6 L497.4,569.6 Z" fill="#3a3b35" opacity="0.75"/>
<path d="M498.9,582.5 L502.4,582.8 L502.3,586.1 Z" fill="#2c2d28" opacity="0.75"/>
<path d="M480.2,562.5 L486.3,564.6 L482.4,566.1 Z" fill="#b5b6ae" opacity="0.75"/>
<path d="M465,568 L470.6,568.6 L467.2,569.6 Z" fill="#9c9d95" opacity="0.75"/>
<path d="M493.9,567.6 L497.4,568.6 L495.8,571.2 Z" fill="#3a3b35" opacity="0.75"/>
<path d="M468.1,570.6 L471.8,569.7 L473.7,576.1 L469.9,576.9 Z" fill="#e4e5dd"/>
<path d="M473.4,570.5 L477,569.6 L479.1,575.9 L475.3,576.8 Z" fill="#f6f6f0"/>
<path d="M478.7,570.3 L482.3,569.5 L484.5,575.8 L480.8,576.7 Z" fill="#cfd0c8"/>
<path d="M485.4,571.8 L489.1,571.3 L490.4,574.5 L486.5,575 Z" fill="#a9aaa2" opacity="0.8"/>
<path d="M484.4,557.7 L499.7,572.3 L508.7,589.8" fill="none" stroke="#c9cac2" stroke-width="1.6" opacity="0.9"/>
<path d="M487.5,557.7 L503.1,572.2 L512.4,589.7" fill="none" stroke="#9a9b93" stroke-width="1.2" opacity="0.9"/>
<path d="M490.6,557.6 L506.5,572.1 L516.1,589.7" fill="none" stroke="#7d7e77" stroke-width="1.1" opacity="0.9"/>
<path d="M396.8,590.2 L519,588" stroke="#b3b4ac" stroke-width="1.5" fill="none"/>
<path d="M396,598 L523,596 L546,640 L416,646 Z" fill="#3c3d37"/>
<path d="M402.2,602.7 L409.3,599.2 L422.4,600 L433.5,611.6 L441,626.6 L439.6,633.4 L414.8,634.8 L405.9,619.6 Z" fill="#62635c"/>
<path d="M405.2,603.6 L421.8,602.4 L431,613.6 L419.1,612 L408.3,615.1 Z" fill="#80817a" opacity="0.9"/>
<path d="M411.5,624.7 L423.1,621.5 L436.8,622.9 L439.4,632.9 L415.5,634.3 Z" fill="#22231f" opacity="0.9"/>
<path d="M407.6,604.8 L409.5,603.4 L409.3,608.3 Z" fill="#3a3b35" opacity="0.75"/>
<path d="M433.1,624.5 L435.5,625.4 L435,627 Z" fill="#6d6e67" opacity="0.75"/>
<path d="M419.3,630.5 L421.3,632 L421.2,633.4 Z" fill="#85867e" opacity="0.75"/>
<path d="M416.6,620.8 L421.3,623.6 L419.8,622.9 Z" fill="#2c2d28" opacity="0.75"/>
<path d="M414.3,613.5 L416,612.6 L417.4,618.9 Z" fill="#2c2d28" opacity="0.75"/>
<path d="M424.3,601.6 L427.3,603.5 L427.2,606.3 Z" fill="#85867e" opacity="0.75"/>
<path d="M419.4,619.8 L421.4,618.4 L422.3,624.8 Z" fill="#6d6e67" opacity="0.75"/>
<path d="M407.7,615.9 L412.3,616.7 L411.2,620.5 Z" fill="#85867e" opacity="0.75"/>
<path d="M431.5,607.2 L433.5,606 L434.4,610 Z" fill="#3a3b35" opacity="0.75"/>
<path d="M415.5,618.8 L418.1,617.8 L421.3,625.4 L418.7,626.4 Z" fill="#e4e5dd"/>
<path d="M419.6,618.7 L422.1,617.7 L425.4,625.2 L422.8,626.3 Z" fill="#f6f6f0"/>
<path d="M423.6,618.6 L426.2,617.5 L429.5,625.1 L426.9,626.2 Z" fill="#cfd0c8"/>
<path d="M429.1,620.3 L431.9,619.8 L433.6,623.5 L430.8,624.1 Z" fill="#a9aaa2" opacity="0.8"/>
<path d="M423.3,599 L438.2,616.2 L448.2,636.9" fill="none" stroke="#c9cac2" stroke-width="1.6" opacity="0.9"/>
<path d="M425.8,599 L440.8,616.2 L450.8,636.7" fill="none" stroke="#9a9b93" stroke-width="1.2" opacity="0.9"/>
<path d="M428.4,598.9 L443.3,616.1 L453.4,636.6" fill="none" stroke="#7d7e77" stroke-width="1.1" opacity="0.9"/>
<path d="M444.7,601.9 L451.7,598.5 L464.8,599.2 L476.2,610.5 L484,625.1 L482.7,631.7 L458,633.1 L448.6,618.3 Z" fill="#62635c"/>
<path d="M447.6,602.8 L464.2,601.6 L473.6,612.5 L461.7,610.9 L451,614 Z" fill="#80817a" opacity="0.9"/>
<path d="M454.4,623.3 L466,620.1 L479.7,621.6 L482.5,631.2 L458.6,632.6 Z" fill="#22231f" opacity="0.9"/>
<path d="M462.7,618.2 L465.4,617 L465.8,623.1 Z" fill="#b5b6ae" opacity="0.75"/>
<path d="M458.9,623.6 L461.6,622.6 L460.9,626.1 Z" fill="#9c9d95" opacity="0.75"/>
<path d="M447.3,611.7 L450.4,615.1 L450,616 Z" fill="#3a3b35" opacity="0.75"/>
<path d="M446.1,609.6 L451.4,611.9 L449.6,615 Z" fill="#2c2d28" opacity="0.75"/>
<path d="M463,603 L467.5,605.9 L465,605.7 Z" fill="#2c2d28" opacity="0.75"/>
<path d="M474.9,610.2 L475.2,608.2 L477.5,614.9 Z" fill="#3a3b35" opacity="0.75"/>
<path d="M479.3,617.2 L481.4,616.1 L482.7,619.4 Z" fill="#6d6e67" opacity="0.75"/>
<path d="M445.6,606 L448.3,604.5 L447.4,609.7 Z" fill="#85867e" opacity="0.75"/>
<path d="M451.7,601.9 L455.2,601.3 L456.2,606.1 Z" fill="#85867e" opacity="0.75"/>
<path d="M458.3,617.6 L460.8,616.5 L464.2,623.9 L461.7,625 Z" fill="#e4e5dd"/>
<path d="M462.3,617.4 L464.9,616.4 L468.3,623.8 L465.7,624.8 Z" fill="#f6f6f0"/>
<path d="M466.4,617.3 L469,616.3 L472.4,623.7 L469.8,624.7 Z" fill="#cfd0c8"/>
<path d="M472,619 L474.7,618.5 L476.5,622.1 L473.7,622.7 Z" fill="#a9aaa2" opacity="0.8"/>
<path d="M465.7,598.3 L480.9,615 L491.4,635.1" fill="none" stroke="#c9cac2" stroke-width="1.6" opacity="0.9"/>
<path d="M468.2,598.2 L483.5,615 L494,635" fill="none" stroke="#9a9b93" stroke-width="1.2" opacity="0.9"/>
<path d="M470.7,598.2 L486,614.9 L496.6,634.9" fill="none" stroke="#7d7e77" stroke-width="1.1" opacity="0.9"/>
<path d="M487.1,601.1 L494,597.8 L507.2,598.5 L518.8,609.5 L527,623.6 L525.8,630 L501.1,631.4 L491.4,617 Z" fill="#62635c"/>
<path d="M490.1,602 L506.6,600.8 L516.3,611.3 L504.3,609.8 L493.7,612.8 Z" fill="#80817a" opacity="0.9"/>
<path d="M497.3,621.9 L508.8,618.8 L522.6,620.2 L525.6,629.6 L501.7,631 Z" fill="#22231f" opacity="0.9"/>
<path d="M501.8,606.9 L503.3,604.9 L504.2,609.6 Z" fill="#9c9d95" opacity="0.75"/>
<path d="M516,614 L517,613.2 L517.9,616.5 Z" fill="#85867e" opacity="0.75"/>
<path d="M500.2,607.6 L504,610.5 L502.2,609.8 Z" fill="#2c2d28" opacity="0.75"/>
<path d="M509,625.9 L513.4,628.2 L512.7,629.4 Z" fill="#6d6e67" opacity="0.75"/>
<path d="M510.2,626.7 L514.8,629.9 L512,629.6 Z" fill="#9c9d95" opacity="0.75"/>
<path d="M517.2,618.1 L521.3,618.9 L521,622.3 Z" fill="#3a3b35" opacity="0.75"/>
<path d="M499.8,611.4 L503.9,614.1 L502.5,615.4 Z" fill="#85867e" opacity="0.75"/>
<path d="M498.1,626.3 L501.5,629.6 L500.9,628.2 Z" fill="#85867e" opacity="0.75"/>
<path d="M511.2,613.2 L514,613.2 L514.6,617.8 Z" fill="#85867e" opacity="0.75"/>
<path d="M501,616.3 L503.6,615.3 L507.2,622.5 L504.6,623.5 Z" fill="#e4e5dd"/>
<path d="M505.1,616.2 L507.6,615.2 L511.2,622.4 L508.7,623.4 Z" fill="#f6f6f0"/>
<path d="M509.2,616.1 L511.7,615.1 L515.3,622.2 L512.8,623.2 Z" fill="#cfd0c8"/>
<path d="M514.8,617.7 L517.5,617.2 L519.4,620.7 L516.6,621.3 Z" fill="#a9aaa2" opacity="0.8"/>
<path d="M508,597.6 L523.7,613.8 L534.5,633.3" fill="none" stroke="#c9cac2" stroke-width="1.6" opacity="0.9"/>
<path d="M510.6,597.5 L526.2,613.8 L537.1,633.2" fill="none" stroke="#9a9b93" stroke-width="1.2" opacity="0.9"/>
<path d="M513.1,597.5 L528.8,613.7 L539.7,633.1" fill="none" stroke="#7d7e77" stroke-width="1.1" opacity="0.9"/>
<path d="M412,636.4 L541.4,631.2" stroke="#b3b4ac" stroke-width="1.5" fill="none"/>
<path d="M418,646 L546,640 L558,676.5 L424,692 Z" fill="#3c3d37"/>
<path d="M422.9,650.4 L431,646.8 L444,647 L451.8,657.6 L455.1,671.5 L451.6,677.2 L426,680.2 L421.6,666.6 Z" fill="#62635c"/>
<path d="M425.6,651.1 L442.6,649.3 L448.6,659.6 L437.1,658.6 L425.4,662.2 Z" fill="#80817a" opacity="0.9"/>
<path d="M425.7,671.4 L438.5,667.6 L451.9,668.2 L451.5,676.7 L426.9,679.6 Z" fill="#22231f" opacity="0.9"/>
<path d="M442.1,669.1 L446.3,672 L444.8,674 Z" fill="#6d6e67" opacity="0.75"/>
<path d="M448.9,669.4 L450.6,667.4 L449.8,672.5 Z" fill="#85867e" opacity="0.75"/>
<path d="M432,651.8 L434.4,653.7 L433.4,654.2 Z" fill="#9c9d95" opacity="0.75"/>
<path d="M428.1,671.8 L430,673.1 L428.7,673.6 Z" fill="#6d6e67" opacity="0.75"/>
<path d="M427.3,655.3 L432,657.9 L428.8,660.6 Z" fill="#2c2d28" opacity="0.75"/>
<path d="M449.3,665.3 L451.7,668.4 L450.7,670.4 Z" fill="#9c9d95" opacity="0.75"/>
<path d="M430.6,659.2 L432.2,657.7 L431.2,662.1 Z" fill="#2c2d28" opacity="0.75"/>
<path d="M440.3,665.1 L443.5,663 L441.7,667.9 Z" fill="#b5b6ae" opacity="0.75"/>
<path d="M431.6,662.6 L434.8,660.4 L434.4,664.3 Z" fill="#b5b6ae" opacity="0.75"/>
<path d="M430.9,660.9 L433.8,659.8 L434.8,667 L431.9,668.1 Z" fill="#e4e5dd"/>
<path d="M435,660.6 L437.9,659.5 L439,666.6 L436.1,667.8 Z" fill="#f6f6f0"/>
<path d="M439.1,660.3 L442,659.2 L443.1,666.3 L440.2,667.4 Z" fill="#cfd0c8"/>
<path d="M444.2,661.7 L447.1,661.1 L447.7,664.6 L444.7,665.3 Z" fill="#a9aaa2" opacity="0.8"/>
<path d="M445.1,646.1 L455.2,661.8 L459.3,680" fill="none" stroke="#c9cac2" stroke-width="1.6" opacity="0.9"/>
<path d="M447.7,645.9 L457.8,661.6 L461.9,679.7" fill="none" stroke="#9a9b93" stroke-width="1.2" opacity="0.9"/>
<path d="M450.2,645.8 L460.4,661.4 L464.6,679.4" fill="none" stroke="#7d7e77" stroke-width="1.1" opacity="0.9"/>
<path d="M465.8,648.1 L473.7,644.7 L486.7,644.8 L495.1,654.7 L499,667.5 L495.7,672.8 L470.2,675.8 L465.1,663.2 Z" fill="#62635c"/>
<path d="M468.5,648.8 L485.5,647 L492,656.5 L480.4,655.7 L468.8,659 Z" fill="#80817a" opacity="0.9"/>
<path d="M469.5,667.6 L482.1,664 L495.6,664.5 L495.6,672.4 L471,675.3 Z" fill="#22231f" opacity="0.9"/>
<path d="M475.9,657.3 L478.9,657.3 L477.8,661.7 Z" fill="#9c9d95" opacity="0.75"/>
<path d="M465.3,652 L469.3,650.8 L468.2,656.8 Z" fill="#9c9d95" opacity="0.75"/>
<path d="M475.2,656 L478.6,657.9 L476.4,660.2 Z" fill="#3a3b35" opacity="0.75"/>
<path d="M489,646.9 L492.8,645.1 L490.7,650.5 Z" fill="#85867e" opacity="0.75"/>
<path d="M478.1,670.8 L481,670.2 L479.4,673 Z" fill="#6d6e67" opacity="0.75"/>
<path d="M485.8,664.8 L488.2,665.2 L488.1,666.6 Z" fill="#2c2d28" opacity="0.75"/>
<path d="M481.2,656.9 L483.5,657.9 L484.1,660 Z" fill="#9c9d95" opacity="0.75"/>
<path d="M472.4,672.8 L476.2,674.8 L473.8,675.1 Z" fill="#b5b6ae" opacity="0.75"/>
<path d="M480.7,649.9 L484.7,649.8 L481.7,652.7 Z" fill="#6d6e67" opacity="0.75"/>
<path d="M474.2,657.8 L477.1,656.7 L478.5,663.4 L475.6,664.5 Z" fill="#e4e5dd"/>
<path d="M478.3,657.5 L481.2,656.5 L482.6,663.1 L479.7,664.2 Z" fill="#f6f6f0"/>
<path d="M482.5,657.2 L485.3,656.2 L486.8,662.8 L483.9,663.8 Z" fill="#cfd0c8"/>
<path d="M487.6,658.5 L490.5,657.9 L491.3,661.2 L488.3,661.8 Z" fill="#a9aaa2" opacity="0.8"/>
<path d="M487.8,644 L498.6,658.5 L503.6,675.4" fill="none" stroke="#c9cac2" stroke-width="1.6" opacity="0.9"/>
<path d="M490.4,643.8 L501.2,658.3 L506.2,675.1" fill="none" stroke="#9a9b93" stroke-width="1.2" opacity="0.9"/>
<path d="M493,643.7 L503.9,658.1 L508.9,674.8" fill="none" stroke="#7d7e77" stroke-width="1.1" opacity="0.9"/>
<path d="M508.6,645.7 L516.5,642.6 L529.5,642.7 L538.4,651.7 L542.9,663.6 L539.9,668.5 L514.4,671.4 L508.7,659.8 Z" fill="#62635c"/>
<path d="M511.4,646.4 L528.3,644.7 L535.3,653.5 L523.6,652.7 L512.1,655.9 Z" fill="#80817a" opacity="0.9"/>
<path d="M513.3,663.8 L525.8,660.4 L539.4,660.8 L539.8,668.1 L515.1,670.9 Z" fill="#22231f" opacity="0.9"/>
<path d="M533.2,650.6 L536.8,653.5 L536.8,654.9 Z" fill="#9c9d95" opacity="0.75"/>
<path d="M539.5,659.5 L541.6,658.8 L542,663.6 Z" fill="#6d6e67" opacity="0.75"/>
<path d="M523.6,668.2 L528.3,669 L525.7,670.7 Z" fill="#6d6e67" opacity="0.75"/>
<path d="M524,656.6 L527.2,657 L525.3,660.6 Z" fill="#3a3b35" opacity="0.75"/>
<path d="M531.2,659.6 L534.8,659.2 L533.8,661.8 Z" fill="#9c9d95" opacity="0.75"/>
<path d="M520.1,668.4 L524.5,670.9 L521.6,670.4 Z" fill="#6d6e67" opacity="0.75"/>
<path d="M525.2,662.8 L527.4,662 L526.8,665.8 Z" fill="#b5b6ae" opacity="0.75"/>
<path d="M532.2,652 L535.9,653.5 L535.1,654.4 Z" fill="#85867e" opacity="0.75"/>
<path d="M536.7,659.8 L541.9,662.2 L539,662.7 Z" fill="#85867e" opacity="0.75"/>
<path d="M517.6,654.7 L520.4,653.7 L522.1,659.9 L519.2,660.9 Z" fill="#e4e5dd"/>
<path d="M521.7,654.4 L524.5,653.4 L526.2,659.6 L523.4,660.6 Z" fill="#f6f6f0"/>
<path d="M525.8,654.1 L528.6,653.2 L530.4,659.2 L527.5,660.3 Z" fill="#cfd0c8"/>
<path d="M531,655.3 L533.9,654.7 L534.8,657.7 L531.9,658.3 Z" fill="#a9aaa2" opacity="0.8"/>
<path d="M530.6,641.9 L542.1,655.3 L547.9,670.8" fill="none" stroke="#c9cac2" stroke-width="1.6" opacity="0.9"/>
<path d="M533.1,641.7 L544.7,655.1 L550.5,670.5" fill="none" stroke="#9a9b93" stroke-width="1.2" opacity="0.9"/>
<path d="M535.7,641.6 L547.3,654.9 L553.2,670.2" fill="none" stroke="#7d7e77" stroke-width="1.1" opacity="0.9"/>
<path d="M422.7,681.9 L555.4,668.5" stroke="#b3b4ac" stroke-width="1.5" fill="none"/>
    </g></g>
    <path d="M207,565 L184,600 L177,607 Z" fill="#5b5c55"/>
    <path d="M150,663 L138,696 L135,702 Z" fill="#5b5c55"/>
    <path d="M164,611 L393,608 L413,647 L226,658 L197,630 L160,652 Z" fill="#130f10"/>
    <ellipse cx="345" cy="630" rx="70" ry="20" fill="url(#gRed)"/>
    <path d="M393,606 L400,602 L424,645 L413,649 Z" fill="#6a6b64"/>
    <path d="M197,630 L150,662 L228,658 Z" fill="#7c7d76"/><path d="M197,630 L150,662" stroke="#b4b5ad" stroke-width="1.5"/><path d="M170,652 L215,650 L222,657 L160,660 Z" fill="#55564f"/>
    <path d="M95,746 L110,747.5 L200,750.5 L300,751.8 L380,750 L440,746.5 L500,741.5 L560,734.5 L600,726.5 L645,710" stroke="#171914" stroke-width="3.5" fill="none" stroke-linejoin="round"/>
    <path d="M110,751 L200,753.5 L300,754.5 L380,752.5 L440,749 L500,744 L560,737 L600,729 L650,713 C668,710 690,720 700,735 C690,752 675,764 660,770 L632,763 L580,768 L536,773 L500,777 L440,780 L345,779 L250,775.5 L73,766 Z" fill="#474943"/>
    <path d="M300,757 C400,755 500,748 580,738 L600,760 L540,770 L440,778 L300,775 Z" fill="#54564f" filter="url(#b4)"/>
    <path d="M110,751 C180,753 240,755 297,757" stroke="#a1a29a" stroke-width="1.3" fill="none"/>
    <path d="M600,732 C630,724 660,718 686,722 C698,732 690,750 676,762 C670,745 640,736 600,732 Z" fill="#6a6c65" filter="url(#b1)"/>
    <path d="M640,722 C655,718 668,717 672,720 C668,732 664,742 660,748 C656,738 650,730 640,722 Z" fill="#b4b5ad" filter="url(#b1)"/>
    <path d="M73,766 L250,775.5 L250,797 L103,783 Z" fill="#2a2c27"/>
    <g filter="url(#grain)">
<path d="M250,775.5 L345,779 L345,806 L250,797 Z" fill="#30312c"/>
<path d="M254.8,777.9 L264.2,776.7 L278.5,777.7 L285.1,783.9 L286.1,791.5 L281.4,795.8 L253.8,793.7 L250.9,785.2 Z" fill="#62635c"/>
<path d="M257.6,778.4 L276.6,778.8 L281.4,784.6 L269,783 L255.7,783.6 Z" fill="#80817a" opacity="0.9"/>
<path d="M254.8,787.9 L269,787.5 L283.2,789.4 L281.4,795.5 L254.8,793.5 Z" fill="#22231f" opacity="0.9"/>
<path d="M282,789.8 L286,791.6 L282.8,791.9 Z" fill="#6d6e67" opacity="0.75"/>
<path d="M280.9,787.8 L282.9,788.1 L283.7,789.2 Z" fill="#3a3b35" opacity="0.75"/>
<path d="M267.7,787.1 L270.5,786.7 L269.5,789.4 Z" fill="#3a3b35" opacity="0.75"/>
<path d="M266.1,787.7 L270.2,788.3 L266.3,789.7 Z" fill="#6d6e67" opacity="0.75"/>
<path d="M258.6,778.9 L260.9,780.1 L259.5,780.2 Z" fill="#2c2d28" opacity="0.75"/>
<path d="M255.8,777.8 L259.6,779.3 L256.4,779.1 Z" fill="#6d6e67" opacity="0.75"/>
<path d="M278.5,788.4 L280.8,789.5 L279.4,790.7 Z" fill="#85867e" opacity="0.75"/>
<path d="M282.6,783.1 L286.8,782.6 L283.7,785.4 Z" fill="#6d6e67" opacity="0.75"/>
<path d="M274.8,794.2 L278.2,794.4 L275.2,796.3 Z" fill="#2c2d28" opacity="0.75"/>
<path d="M261.9,783.5 L265.2,783.2 L265.2,786.8 L261.9,787 Z" fill="#e4e5dd"/>
<path d="M266.4,783.7 L269.7,783.5 L269.7,787.1 L266.4,787.3 Z" fill="#f6f6f0"/>
<path d="M270.9,784 L274.2,783.7 L274.2,787.4 L270.9,787.6 Z" fill="#cfd0c8"/>
<path d="M276.1,785.2 L279.4,785.2 L279.4,787 L276.1,787 Z" fill="#a9aaa2" opacity="0.8"/>
<path d="M279.9,777.3 L288,786.4 L288.9,798.3" fill="none" stroke="#c9cac2" stroke-width="1.6" opacity="0.9"/>
<path d="M282.8,777.4 L290.9,786.6 L291.8,798.6" fill="none" stroke="#9a9b93" stroke-width="1.2" opacity="0.9"/>
<path d="M285.6,777.5 L293.7,786.7 L294.6,798.8" fill="none" stroke="#7d7e77" stroke-width="1.1" opacity="0.9"/>
<path d="M302.2,779.9 L311.8,778.5 L326,779.6 L332.6,786.4 L333.6,794.9 L328.9,799.8 L301.3,797.7 L298.4,788.2 Z" fill="#62635c"/>
<path d="M305.1,780.5 L324.1,780.8 L328.9,787.3 L316.5,785.6 L303.2,786.3 Z" fill="#80817a" opacity="0.9"/>
<path d="M302.2,791.2 L316.5,790.6 L330.8,792.6 L328.9,799.5 L302.2,797.5 Z" fill="#22231f" opacity="0.9"/>
<path d="M305.8,782.5 L307.8,781.6 L308.1,784.2 Z" fill="#b5b6ae" opacity="0.75"/>
<path d="M325.9,792.6 L328.7,793 L328.1,795.3 Z" fill="#b5b6ae" opacity="0.75"/>
<path d="M304.9,795.7 L308.1,794.8 L306.5,797 Z" fill="#3a3b35" opacity="0.75"/>
<path d="M308,781.1 L311.6,781 L308.1,782.2 Z" fill="#85867e" opacity="0.75"/>
<path d="M316.5,792.4 L318.4,794.3 L318.6,795.4 Z" fill="#3a3b35" opacity="0.75"/>
<path d="M328.5,788.1 L330.3,787.2 L329.2,791 Z" fill="#6d6e67" opacity="0.75"/>
<path d="M309.4,789.4 L313.8,790.5 L310.7,790.5 Z" fill="#85867e" opacity="0.75"/>
<path d="M326.5,786 L331,785.3 L328.8,787.6 Z" fill="#2c2d28" opacity="0.75"/>
<path d="M309.3,791.5 L311.1,791.3 L311.8,793.4 Z" fill="#3a3b35" opacity="0.75"/>
<path d="M309.4,786.2 L312.7,785.9 L312.7,789.9 L309.4,790.2 Z" fill="#e4e5dd"/>
<path d="M313.9,786.4 L317.2,786.1 L317.2,790.2 L313.9,790.5 Z" fill="#f6f6f0"/>
<path d="M318.4,786.7 L321.7,786.4 L321.7,790.5 L318.4,790.8 Z" fill="#cfd0c8"/>
<path d="M323.6,788 L326.9,787.9 L326.9,790 L323.6,790.1 Z" fill="#a9aaa2" opacity="0.8"/>
<path d="M327.4,779.1 L335.5,789.2 L336.4,802.5" fill="none" stroke="#c9cac2" stroke-width="1.6" opacity="0.9"/>
<path d="M330.3,779.2 L338.4,789.4 L339.3,802.8" fill="none" stroke="#9a9b93" stroke-width="1.2" opacity="0.9"/>
<path d="M333.1,779.4 L341.2,789.6 L342.1,803" fill="none" stroke="#7d7e77" stroke-width="1.1" opacity="0.9"/>
<path d="M250,794 L345,802.2" stroke="#b3b4ac" stroke-width="1.5" fill="none"/>
<path d="M345,779 L440,780 L440,813 L345,806 Z" fill="#30312c"/>
<path d="M349.8,781.8 L359.2,780 L373.5,780.7 L380.1,788.1 L381.1,797.5 L376.4,803.1 L348.8,801.6 L345.9,791.2 Z" fill="#62635c"/>
<path d="M352.6,782.4 L371.6,782.1 L376.4,789.2 L364,787.7 L350.7,788.9 Z" fill="#80817a" opacity="0.9"/>
<path d="M349.8,794.3 L364,793.3 L378.2,795.1 L376.4,802.8 L349.8,801.4 Z" fill="#22231f" opacity="0.9"/>
<path d="M352.4,794.5 L355.9,795 L353,797.4 Z" fill="#2c2d28" opacity="0.75"/>
<path d="M353,791.4 L357.1,790.3 L355.7,793.6 Z" fill="#85867e" opacity="0.75"/>
<path d="M373.3,786.3 L375.5,785.1 L376.1,789.2 Z" fill="#9c9d95" opacity="0.75"/>
<path d="M367.4,782.2 L369.9,782.6 L367.7,785.5 Z" fill="#3a3b35" opacity="0.75"/>
<path d="M347.7,795.3 L349.4,796.9 L347.7,796.7 Z" fill="#b5b6ae" opacity="0.75"/>
<path d="M358.3,790.8 L360.3,789.6 L360.8,792.6 Z" fill="#85867e" opacity="0.75"/>
<path d="M353.8,800 L358.2,801.6 L356,802.5 Z" fill="#b5b6ae" opacity="0.75"/>
<path d="M349.3,791.9 L352.5,792.1 L350.2,793.4 Z" fill="#2c2d28" opacity="0.75"/>
<path d="M360.5,788.6 L363.4,788.7 L363.4,790.6 Z" fill="#6d6e67" opacity="0.75"/>
<path d="M356.9,788.6 L360.2,788.1 L360.2,792.6 L356.9,793 Z" fill="#e4e5dd"/>
<path d="M361.4,788.7 L364.7,788.2 L364.7,792.8 L361.4,793.2 Z" fill="#f6f6f0"/>
<path d="M365.9,788.8 L369.2,788.4 L369.2,792.9 L365.9,793.4 Z" fill="#cfd0c8"/>
<path d="M371.1,790.2 L374.4,790 L374.4,792.3 L371.1,792.5 Z" fill="#a9aaa2" opacity="0.8"/>
<path d="M374.9,780.2 L383,791.2 L383.9,805.9" fill="none" stroke="#c9cac2" stroke-width="1.6" opacity="0.9"/>
<path d="M377.8,780.2 L385.9,791.3 L386.8,806.1" fill="none" stroke="#9a9b93" stroke-width="1.2" opacity="0.9"/>
<path d="M380.6,780.3 L388.7,791.4 L389.6,806.3" fill="none" stroke="#7d7e77" stroke-width="1.1" opacity="0.9"/>
<path d="M397.2,782.6 L406.8,780.6 L421,781.4 L427.6,789.5 L428.6,799.9 L423.9,806.1 L396.3,804.6 L393.4,793 Z" fill="#62635c"/>
<path d="M400.1,783.2 L419.1,782.9 L423.9,790.7 L411.5,789.1 L398.2,790.5 Z" fill="#80817a" opacity="0.9"/>
<path d="M397.2,796.5 L411.5,795.3 L425.8,797.2 L423.9,805.7 L397.2,804.4 Z" fill="#22231f" opacity="0.9"/>
<path d="M422.1,785.9 L425.9,788.5 L422.1,787.4 Z" fill="#2c2d28" opacity="0.75"/>
<path d="M419.3,787.2 L422.7,788 L421.1,789 Z" fill="#85867e" opacity="0.75"/>
<path d="M415.2,800.6 L417.8,802.3 L417.9,802.6 Z" fill="#85867e" opacity="0.75"/>
<path d="M396.6,799.2 L400.6,799.4 L398.5,802.2 Z" fill="#b5b6ae" opacity="0.75"/>
<path d="M426.3,791.6 L431,794.2 L427.9,795.2 Z" fill="#9c9d95" opacity="0.75"/>
<path d="M411.2,796.7 L415.8,796.4 L412.8,799.2 Z" fill="#9c9d95" opacity="0.75"/>
<path d="M420.1,793.1 L424.3,791.8 L420.9,795.1 Z" fill="#9c9d95" opacity="0.75"/>
<path d="M402.7,790.5 L407,791.7 L403.1,792.1 Z" fill="#b5b6ae" opacity="0.75"/>
<path d="M410.3,787.7 L414.9,788.4 L412.4,789 Z" fill="#85867e" opacity="0.75"/>
<path d="M404.4,790.1 L407.7,789.6 L407.7,794.5 L404.4,795 Z" fill="#e4e5dd"/>
<path d="M408.9,790.2 L412.2,789.7 L412.2,794.7 L408.9,795.2 Z" fill="#f6f6f0"/>
<path d="M413.4,790.4 L416.7,789.8 L416.7,794.9 L413.4,795.4 Z" fill="#cfd0c8"/>
<path d="M418.6,791.8 L421.9,791.6 L421.9,794.1 L418.6,794.3 Z" fill="#a9aaa2" opacity="0.8"/>
<path d="M422.4,780.8 L430.5,792.9 L431.4,809.1" fill="none" stroke="#c9cac2" stroke-width="1.6" opacity="0.9"/>
<path d="M425.3,780.8 L433.4,793 L434.3,809.3" fill="none" stroke="#9a9b93" stroke-width="1.2" opacity="0.9"/>
<path d="M428.1,780.8 L436.2,793.1 L437.1,809.5" fill="none" stroke="#7d7e77" stroke-width="1.1" opacity="0.9"/>
<path d="M345,802.2 L440,808.4" stroke="#b3b4ac" stroke-width="1.5" fill="none"/>
<path d="M440,780 L536,773 L536,813 L440,813 Z" fill="#30312c"/>
<path d="M444.8,783 L454.4,780 L468.8,779.7 L475.5,788.1 L476.5,799.4 L471.7,806.6 L443.8,807.3 L441,794.8 Z" fill="#62635c"/>
<path d="M447.7,783.5 L466.9,781.5 L471.7,789.7 L459.2,788.9 L445.8,791.6 Z" fill="#80817a" opacity="0.9"/>
<path d="M444.8,798.3 L459.2,795.8 L473.6,796.7 L471.7,806.3 L444.8,807 Z" fill="#22231f" opacity="0.9"/>
<path d="M474.1,783.8 L475.6,786.6 L474.6,785.6 Z" fill="#b5b6ae" opacity="0.75"/>
<path d="M471.4,800.1 L473.1,799.5 L471.6,804.3 Z" fill="#85867e" opacity="0.75"/>
<path d="M473.2,797.4 L477.8,798.8 L473.4,801.3 Z" fill="#2c2d28" opacity="0.75"/>
<path d="M450.8,791.9 L452.8,790.6 L452.3,795.1 Z" fill="#2c2d28" opacity="0.75"/>
<path d="M444,790 L446.5,789 L445.1,793.7 Z" fill="#b5b6ae" opacity="0.75"/>
<path d="M459.2,788.1 L461.6,789.3 L460.5,790.3 Z" fill="#6d6e67" opacity="0.75"/>
<path d="M456,787.6 L458.4,789.7 L457.2,791.4 Z" fill="#85867e" opacity="0.75"/>
<path d="M452.2,790.7 L455.6,790.1 L454,793.4 Z" fill="#9c9d95" opacity="0.75"/>
<path d="M467.4,802.8 L470.2,801.4 L468.7,804.5 Z" fill="#9c9d95" opacity="0.75"/>
<path d="M452,790.6 L455.4,789.8 L455.4,795.3 L452,796.1 Z" fill="#e4e5dd"/>
<path d="M456.6,790.4 L459.9,789.6 L459.9,795.1 L456.6,795.9 Z" fill="#f6f6f0"/>
<path d="M461.1,790.2 L464.5,789.3 L464.5,794.9 L461.1,795.7 Z" fill="#cfd0c8"/>
<path d="M466.4,791.3 L469.8,790.8 L469.8,793.7 L466.4,794.1 Z" fill="#a9aaa2" opacity="0.8"/>
<path d="M470.2,778.9 L478.4,791.5 L479.4,809.4" fill="none" stroke="#c9cac2" stroke-width="1.6" opacity="0.9"/>
<path d="M473.1,778.6 L481.3,791.4 L482.2,809.4" fill="none" stroke="#9a9b93" stroke-width="1.2" opacity="0.9"/>
<path d="M476,778.4 L484.2,791.3 L485.1,809.4" fill="none" stroke="#7d7e77" stroke-width="1.1" opacity="0.9"/>
<path d="M492.8,779.8 L502.4,776.6 L516.8,776.3 L523.5,785.6 L524.5,798.1 L519.7,806 L491.8,806.7 L489,792.9 Z" fill="#62635c"/>
<path d="M495.7,780.4 L514.9,778.4 L519.7,787.4 L507.2,786.5 L493.8,789.4 Z" fill="#80817a" opacity="0.9"/>
<path d="M492.8,796.8 L507.2,794 L521.6,795.1 L519.7,805.6 L492.8,806.4 Z" fill="#22231f" opacity="0.9"/>
<path d="M491.9,800.8 L494,800.1 L491.9,803.6 Z" fill="#85867e" opacity="0.75"/>
<path d="M495.7,793.1 L498.3,792.7 L496.7,795.1 Z" fill="#6d6e67" opacity="0.75"/>
<path d="M492,782.6 L496.1,784.1 L493.9,784.3 Z" fill="#85867e" opacity="0.75"/>
<path d="M503.7,800.2 L508.3,800.5 L506.2,803.1 Z" fill="#2c2d28" opacity="0.75"/>
<path d="M494.5,786.3 L498.2,788.4 L495.8,787.9 Z" fill="#b5b6ae" opacity="0.75"/>
<path d="M501.8,799.1 L506,800.1 L504.5,800.6 Z" fill="#2c2d28" opacity="0.75"/>
<path d="M501.7,780.2 L503.5,781.3 L503.4,783.7 Z" fill="#85867e" opacity="0.75"/>
<path d="M491.3,804.1 L494,802.7 L491.9,806.3 Z" fill="#6d6e67" opacity="0.75"/>
<path d="M496,786.1 L497.8,786.4 L496.6,788.5 Z" fill="#b5b6ae" opacity="0.75"/>
<path d="M500,788.3 L503.4,787.4 L503.4,793.4 L500,794.3 Z" fill="#e4e5dd"/>
<path d="M504.6,788.1 L507.9,787.2 L507.9,793.3 L504.6,794.1 Z" fill="#f6f6f0"/>
<path d="M509.1,787.9 L512.5,787 L512.5,793.1 L509.1,794 Z" fill="#cfd0c8"/>
<path d="M514.4,789.2 L517.8,788.6 L517.8,791.7 L514.4,792.3 Z" fill="#a9aaa2" opacity="0.8"/>
<path d="M518.2,775.5 L526.4,789.4 L527.4,809.1" fill="none" stroke="#c9cac2" stroke-width="1.6" opacity="0.9"/>
<path d="M521.1,775.3 L529.3,789.3 L530.2,809" fill="none" stroke="#9a9b93" stroke-width="1.2" opacity="0.9"/>
<path d="M524,775 L532.2,789.2 L533.1,809" fill="none" stroke="#7d7e77" stroke-width="1.1" opacity="0.9"/>
<path d="M440,808.4 L536,807.4" stroke="#b3b4ac" stroke-width="1.5" fill="none"/>
<path d="M536,773 L630,764 L630,802 L536,813 Z" fill="#30312c"/>
<path d="M540.7,776.5 L550.1,772.8 L564.2,772.3 L570.8,781.4 L571.7,793.9 L567,802.3 L539.8,805.8 L536.9,790.9 Z" fill="#62635c"/>
<path d="M543.5,777.1 L562.3,774.4 L567,783.4 L554.8,783.1 L541.6,786.8 Z" fill="#80817a" opacity="0.9"/>
<path d="M540.7,794.9 L554.8,791 L568.9,791.1 L567,801.9 L540.7,805.3 Z" fill="#22231f" opacity="0.9"/>
<path d="M568.3,799.2 L572.7,797.1 L570,801.9 Z" fill="#2c2d28" opacity="0.75"/>
<path d="M549.7,795 L552,792.9 L551.4,799.3 Z" fill="#6d6e67" opacity="0.75"/>
<path d="M540.7,795.6 L543.5,795.9 L542.8,798.1 Z" fill="#6d6e67" opacity="0.75"/>
<path d="M544.6,776.3 L547.3,775 L545.3,780.2 Z" fill="#2c2d28" opacity="0.75"/>
<path d="M562.9,783.8 L566.2,784.8 L563.8,785.5 Z" fill="#9c9d95" opacity="0.75"/>
<path d="M543.7,788.9 L547.7,790 L544.2,793 Z" fill="#2c2d28" opacity="0.75"/>
<path d="M548.5,797.7 L550.6,796.1 L548.8,799.4 Z" fill="#3a3b35" opacity="0.75"/>
<path d="M568.8,780.7 L572.2,779 L571.3,783.7 Z" fill="#9c9d95" opacity="0.75"/>
<path d="M555.9,781.4 L557.7,783.3 L557.9,785.4 Z" fill="#85867e" opacity="0.75"/>
<path d="M547.8,785.4 L551,784.3 L551,790.6 L547.8,791.8 Z" fill="#e4e5dd"/>
<path d="M552.2,784.9 L555.5,783.8 L555.5,790.1 L552.2,791.3 Z" fill="#f6f6f0"/>
<path d="M556.7,784.5 L560,783.3 L560,789.7 L556.7,790.8 Z" fill="#cfd0c8"/>
<path d="M561.9,785.5 L565.1,784.8 L565.1,787.9 L561.9,788.7 Z" fill="#a9aaa2" opacity="0.8"/>
<path d="M565.6,771.3 L573.6,785.1 L574.5,804.6" fill="none" stroke="#c9cac2" stroke-width="1.6" opacity="0.9"/>
<path d="M568.4,771.1 L576.4,784.8 L577.4,804.2" fill="none" stroke="#9a9b93" stroke-width="1.2" opacity="0.9"/>
<path d="M571.2,770.8 L579.2,784.5 L580.2,803.9" fill="none" stroke="#7d7e77" stroke-width="1.1" opacity="0.9"/>
<path d="M587.7,771.9 L597.1,768.3 L611.2,767.7 L617.8,776.6 L618.7,788.8 L614,797 L586.8,800.4 L583.9,786 Z" fill="#62635c"/>
<path d="M590.5,772.4 L609.3,769.8 L614,778.6 L601.8,778.3 L588.6,782 Z" fill="#80817a" opacity="0.9"/>
<path d="M587.7,789.8 L601.8,786 L615.9,786 L614,796.6 L587.7,799.9 Z" fill="#22231f" opacity="0.9"/>
<path d="M595.7,774.2 L599.5,772.4 L596.8,777.1 Z" fill="#6d6e67" opacity="0.75"/>
<path d="M586.7,782.6 L588.2,784.6 L588.7,787 Z" fill="#b5b6ae" opacity="0.75"/>
<path d="M616.1,782.8 L620.8,784.2 L617.1,787.2 Z" fill="#9c9d95" opacity="0.75"/>
<path d="M601,770.9 L603.3,771.5 L603.1,773.6 Z" fill="#3a3b35" opacity="0.75"/>
<path d="M592,773.6 L595.1,772.2 L593.5,777.5 Z" fill="#3a3b35" opacity="0.75"/>
<path d="M588.2,775.6 L589.6,777.4 L590,778.3 Z" fill="#85867e" opacity="0.75"/>
<path d="M614.3,787 L617.1,788.3 L616.7,790.3 Z" fill="#85867e" opacity="0.75"/>
<path d="M602.8,781.2 L605.2,783.3 L604.6,782.7 Z" fill="#3a3b35" opacity="0.75"/>
<path d="M588.4,788.3 L591,788.9 L590.8,790.3 Z" fill="#b5b6ae" opacity="0.75"/>
<path d="M594.8,780.5 L598,779.4 L598,785.6 L594.8,786.8 Z" fill="#e4e5dd"/>
<path d="M599.2,780.1 L602.5,779 L602.5,785.2 L599.2,786.3 Z" fill="#f6f6f0"/>
<path d="M603.7,779.6 L607,778.5 L607,784.7 L603.7,785.8 Z" fill="#cfd0c8"/>
<path d="M608.9,780.6 L612.1,779.9 L612.1,783 L608.9,783.7 Z" fill="#a9aaa2" opacity="0.8"/>
<path d="M612.6,766.8 L620.6,780.2 L621.5,799.2" fill="none" stroke="#c9cac2" stroke-width="1.6" opacity="0.9"/>
<path d="M615.4,766.5 L623.4,779.9 L624.4,798.8" fill="none" stroke="#9a9b93" stroke-width="1.2" opacity="0.9"/>
<path d="M618.2,766.3 L626.2,779.6 L627.2,798.5" fill="none" stroke="#7d7e77" stroke-width="1.1" opacity="0.9"/>
<path d="M536,807.4 L630,796.7" stroke="#b3b4ac" stroke-width="1.5" fill="none"/>
    </g>
    <path d="M73,766 L250,775.5 L345,779 L440,780 L536,773 L630,764" stroke="#9a9b93" stroke-width="1.3" fill="none"/>
    <path d="M103,783 L250,797 L345,806 L440,813 C480,814 520,814 540,813 C580,811 610,807 632,802" stroke="#7f8078" stroke-width="1.3" fill="none"/>
    <path d="M630,764 L660,770 C680,760 695,745 706,728 L716,716 C700,750 670,785 630,802 Z" fill="#3a3c36"/>
    <path d="M640,790 C670,775 700,745 716,712" stroke="#8a8b84" stroke-width="1.2" fill="none" opacity="0.8"/>
    <path d="M650,772 C670,760 690,742 702,722" stroke="#6f7069" stroke-width="1.1" fill="none" opacity="0.8"/>
    <path d="M688,513 L720,487 L731,525 L700,552 Z" fill="#371418"/>
    <path d="M648,552 L688,513 L700,552 L668,584 Z" fill="#551820"/>
    <path d="M724,486 L733,526" stroke="#8a7a78" stroke-width="1.2"/>
    <path d="M645,600 L757,528 L760,547 L651,616 Z" fill="#33352e"/>
    <path d="M672,645 L757,589 L760,611 L677,661 Z" fill="#30322b"/>
    <path d="M640,560 L652,576 L700,552 L732,527 L745,520 L748,532 L650,598 Z" fill="#1d1f1a" opacity="0.7"/>
    <g stroke="#6a6c65" stroke-width="1.2" fill="none" opacity="0.85">
      <path d="M640,388 L660,380 M690,392 L712,386 M735,420 L748,412 L750,438"/>
      <path d="M576,480 L595,497 M616,533 L624,547 M645,600 L757,528 M748,518 L757,528 L760,547 M672,645 L757,589 L760,611 M688,605 L712,590 M700,668 L745,638 M735,612 L748,604"/>
    </g>
  </g>
  <path d="M132,431 C150,432 174,436 188,440 C186,452 183,463 179,473 L168,484 C155,493 138,510 126,524 C114,542 106,570 100,596 C93,628 84,660 74,692 C68,712 60,730 50,745 L34,737 C38,720 42,705 46,690 C52,668 58,645 64,622 C70,600 76,578 82,556 C88,535 95,514 101,496 C107,478 112,464 118,451 C122,441 126,433 131,429 Z" fill="url(#gFin)"/>
  <path d="M134,432 C152,433 174,436 187,440 L184,452 C168,447 150,444 128,444 Z" fill="#55574f"/>
  <path d="M128,446 C150,446 168,449 183,454 C181,462 179,468 177,473 C165,482 150,495 136,510 C126,500 122,470 128,446 Z" fill="#43453e" filter="url(#b2)"/>
  <path d="M181,480 L172,487 C150,500 130,518 120,540 C110,565 104,590 98,615 C90,650 80,685 68,720" fill="none" stroke="#0d0f0a" stroke-width="9" stroke-linecap="butt"/>
  <path d="M176,493 C156,504 138,522 128,544 C118,568 112,592 106,618 C99,650 90,680 80,712" fill="none" stroke="#34362f" stroke-width="1.2" opacity="0.8"/>
</g>
<g id="outlines" fill="none" stroke="#fff" stroke-opacity="0.7" stroke-width="9" stroke-linejoin="round">
  <path d="M248.5,545 V90 H839"/>
  <path d="M598.5,408 V284 H839"/>
  <path d="M345.6,618 V477.8 H839"/>
  <path d="M677.7,477.8 V546"/>
  <path d="M448.6,626 V671.3 H839"/>
  <path d="M448.6,791 V865.3 H839"/>
  <path d="M101.5,642 V1058.7 H839"/>
</g>
<g id="callouts" fill="none" stroke="#16568b" stroke-width="3">
  <path d="M248.5,545 V90 H839"/>
  <path d="M598.5,408 V284 H839"/>
  <path d="M345.6,618 V477.8 H839"/>
  <path d="M677.7,477.8 V546"/>
  <path d="M448.6,626 V671.3 H839"/>
  <path d="M448.6,791 V865.3 H839"/>
  <path d="M101.5,642 V1058.7 H839"/>
</g>
<g id="dots">
  <g transform="translate(255.6,546.2)"><circle r="11.2" fill="#fff"/><circle r="8.1" fill="#16568b"/><circle cx="2.3" cy="-2.6" r="2.9" fill="#fff"/></g>
  <g transform="translate(605.5,408)"><circle r="11.2" fill="#fff"/><circle r="8.1" fill="#16568b"/><circle cx="2.3" cy="-2.6" r="2.9" fill="#fff"/></g>
  <g transform="translate(352.8,618.8)"><circle r="11.2" fill="#fff"/><circle r="8.1" fill="#16568b"/><circle cx="2.3" cy="-2.6" r="2.9" fill="#fff"/></g>
  <g transform="translate(684.2,547.2)"><circle r="11.2" fill="#fff"/><circle r="8.1" fill="#16568b"/><circle cx="2.3" cy="-2.6" r="2.9" fill="#fff"/></g>
  <g transform="translate(455.9,626.9)"><circle r="11.2" fill="#fff"/><circle r="8.1" fill="#16568b"/><circle cx="2.3" cy="-2.6" r="2.9" fill="#fff"/></g>
  <g transform="translate(455.8,791)"><circle r="11.2" fill="#fff"/><circle r="8.1" fill="#16568b"/><circle cx="2.3" cy="-2.6" r="2.9" fill="#fff"/></g>
  <g transform="translate(107.9,642.6)"><circle r="11.2" fill="#fff"/><circle r="8.1" fill="#16568b"/><circle cx="2.3" cy="-2.6" r="2.9" fill="#fff"/></g>
</g>
<g id="labels" class="lbl">
  <text x="855.6" y="102.7" textLength="307.2" lengthAdjust="spacingAndGlyphs">INTEGRATED SEQUENTIAL</text>
  <text x="855.6" y="140.5" textLength="240.8" lengthAdjust="spacingAndGlyphs">LED TURN SIGNAL &amp;</text>
  <text x="855.6" y="178.1" textLength="277.8" lengthAdjust="spacingAndGlyphs">FIBER OPTIC LED STRIP</text>
  <text x="855.6" y="297.9" textLength="157" lengthAdjust="spacingAndGlyphs">SMOKE LENS</text>
  <text x="855.6" y="491.9" textLength="243.7" lengthAdjust="spacingAndGlyphs">REFLEX REFLECTORS</text>
  <text x="855.6" y="685.4" textLength="211.8" lengthAdjust="spacingAndGlyphs">LED BRAKE LIGHT</text>
  <text x="855.6" y="878.7" textLength="236.5" lengthAdjust="spacingAndGlyphs">LED REVERSE LIGHT</text>
  <text x="855.6" y="1071.6" textLength="231.7" lengthAdjust="spacingAndGlyphs">CHROME HOUSING</text>
</g>
</svg>
</body>
</html>
